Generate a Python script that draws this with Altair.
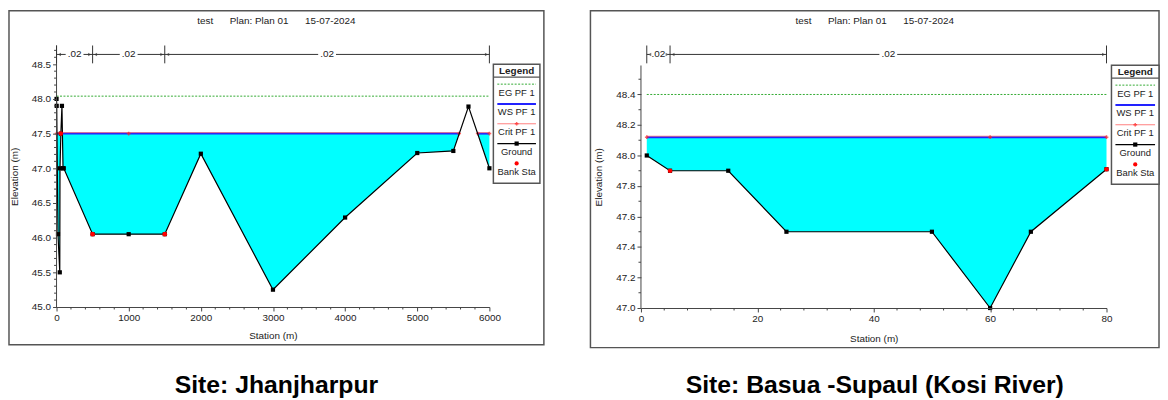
import altair as alt
import pandas as pd

FONT = "'Liberation Sans Narrow', 'Arial Narrow', 'Liberation Sans', Arial, sans-serif"
CAPFONT = "'Liberation Sans', Arial, sans-serif"
TXT = "#222222"
AX = "#444444"
SP = "\u00a0" * 6
TITLE = "test" + SP + "Plan: Plan 01" + SP + "15-07-2024"
LEGEND_LABELS = ["EG PF 1", "WS PF 1", "Crit PF 1", "Ground", "Bank Sta"]

# ---------------- Site: Jhanjharpur ----------------
J_sta = [0, 2, 20, 45, 48, 60, 75, 90, 100, 500, 1000, 1500, 2000, 3000, 4000, 5000, 5500, 5710, 6000]
J_elev = [48.0, 47.9, 46.05, 45.5, 47.0, 47.5, 47.9, 47.0, 47.0, 46.05, 46.05, 46.05, 47.21, 45.25, 46.29, 47.22, 47.25, 47.89, 47.0]
J_bank_sta = [60, 500, 1500]
J_bank_elev = [47.5, 46.05, 46.05]
J_ws = 47.5
J_eg = 48.04
J_eg_ext = [0, 6000]
J_ws_from = [0, 5838]
J_ws_to = [5581, 6000]
J_crit_sta = [0, 1000, 5581, 5838, 6000]
J_wet_sta = [6, 82, 5581, 5838]
J_n_bounds = [0, 500, 1500, 6000]
J_n_vals = [".02", ".02", ".02"]
J_xticks = [0, 1000, 2000, 3000, 4000, 5000, 6000]
J_yticks = [45.0, 45.5, 46.0, 46.5, 47.0, 47.5, 48.0, 48.5]
J_xminor = [v for v in range(200, 6000, 200) if v % 1000]
J_yminor = [round(45.0 + 0.1 * i, 1) for i in range(1, 38) if i % 5]

# ---------------- Site: Basua -Supaul (Kosi River) ----------------
B_sta = [1, 5, 15, 25, 50, 60, 67, 80]
B_elev = [48.0, 47.9, 47.9, 47.5, 47.5, 47.0, 47.5, 47.91]
B_bank_sta = [5, 80]
B_bank_elev = [47.9, 47.91]
B_ws = 48.12
B_eg = 48.4
B_eg_ext = [1, 80]
B_ws_from = [1]
B_ws_to = [80]
B_crit_sta = [1, 60, 80]
B_wet_sta = []
B_n_bounds = [1, 5, 80]
B_n_vals = [".02", ".02"]
B_xticks = [0, 20, 40, 60, 80]
B_yticks = [47.0, 47.2, 47.4, 47.6, 47.8, 48.0, 48.2, 48.4]
B_xminor = [v for v in range(4, 80, 4) if v % 20]
B_yminor = [47.1, 47.3, 47.5, 47.7, 47.9, 48.1, 48.3, 48.5]

SITES = [
    dict(name="Site: Jhanjharpur", sta=J_sta, elev=J_elev, bank_sta=J_bank_sta, bank_elev=J_bank_elev,
         ws=J_ws, eg=J_eg, eg_ext=J_eg_ext, ws_from=J_ws_from, ws_to=J_ws_to, crit=J_crit_sta,
         wet=J_wet_sta, nb=J_n_bounds, nv=J_n_vals, xticks=J_xticks, yticks=J_yticks,
         xminor=J_xminor, yminor=J_yminor, xdom=[0, 6000], ydom=[45.0, 48.77], yaxtop=48.77,
         W=437, H=264, frame=(-48, 492, -35, 302), title=(222, -25), cap=(222, 351),
         leg=(441, 488, 19), ann=(0, 18, 9), ytp=12, xtp=8),
    dict(name="Site: Basua -Supaul (Kosi River)", sta=B_sta, elev=B_elev, bank_sta=B_bank_sta,
         bank_elev=B_bank_elev, ws=B_ws, eg=B_eg, eg_ext=B_eg_ext, ws_from=B_ws_from, ws_to=B_ws_to,
         crit=B_crit_sta, wet=B_wet_sta, nb=B_n_bounds, nv=B_n_vals, xticks=B_xticks, yticks=B_yticks,
         xminor=B_xminor, yminor=B_yminor, xdom=[0, 80], ydom=[47.0, 48.721], yaxtop=48.59,
         W=470, H=265, frame=(-51, 523, -35, 305), title=(236, -25), cap=(236, 351),
         leg=(475, 523, 20), ann=(0, 18, 9), ytp=12, xtp=10),
]

ONE = pd.DataFrame({"k": [0]})


def legend_layers(x0, x1, top):
    cx = (x0 + x1) / 2
    base = alt.Chart(ONE)
    out = [
        base.mark_rect(fill="white", stroke="#555555", strokeWidth=1.5).encode(
            x=alt.value(x0), x2=alt.value(x1), y=alt.value(top), y2=alt.value(top + 120)),
        base.mark_text(text="Legend", font=FONT, fontSize=10, fontWeight="bold", color=TXT,
                       baseline="middle").encode(x=alt.value(cx), y=alt.value(top + 6.5)),
        base.mark_rule(color="#555555", strokeWidth=1.2).encode(
            x=alt.value(x0), x2=alt.value(x1), y=alt.value(top + 13)),
    ]
    sym_y = [20, 40, 60, 80, 100]
    txt_y = [29, 48.5, 68.5, 89, 109]
    lx0, lx1 = x0 + 4, x1 - 4
    out.append(base.mark_rule(color="#33aa33", strokeWidth=1, strokeDash=[2, 1.5]).encode(
        x=alt.value(lx0), x2=alt.value(lx1), y=alt.value(top + sym_y[0])))
    out.append(base.mark_rule(color="#2222ff", strokeWidth=2).encode(
        x=alt.value(lx0), x2=alt.value(lx1), y=alt.value(top + sym_y[1])))
    out.append(base.mark_rule(color="#ff8080", strokeWidth=1).encode(
        x=alt.value(lx0), x2=alt.value(lx1), y=alt.value(top + sym_y[2])))
    out.append(base.mark_point(shape="cross", filled=True, color="#ff2020", size=14).encode(
        x=alt.value(cx), y=alt.value(top + sym_y[2])))
    out.append(base.mark_rule(color="black", strokeWidth=1.2).encode(
        x=alt.value(lx0), x2=alt.value(lx1), y=alt.value(top + sym_y[3])))
    out.append(base.mark_square(color="black", size=18, opacity=1).encode(
        x=alt.value(cx), y=alt.value(top + sym_y[3])))
    out.append(base.mark_circle(color="red", size=18, opacity=1).encode(
        x=alt.value(cx), y=alt.value(top + sym_y[4])))
    for lab, ty in zip(LEGEND_LABELS, txt_y):
        out.append(base.mark_text(text=lab, font=FONT, fontSize=9.5, color=TXT, baseline="middle").encode(
            x=alt.value(cx), y=alt.value(top + ty)))
    return out


def build(s):
    W, H = s["W"], s["H"]
    xs = alt.Scale(domain=s["xdom"], nice=False, zero=False)
    ys = alt.Scale(domain=s["ydom"], nice=False, zero=False)
    common = dict(labelFont=FONT, labelFontSize=10, labelColor=TXT, titleFont=FONT, titleFontSize=10,
                  titleFontWeight="normal", titleColor=TXT, tickSize=4, tickColor=AX, domainColor=AX,
                  labelPadding=2, grid=False, labelOverlap=False, zindex=1)
    xaxis = alt.Axis(values=s["xticks"], title="Station (m)", format="d", titlePadding=s["xtp"],
                     labelFlush=False, **common)
    yaxis = alt.Axis(values=s["yticks"], title="Elevation (m)", format=".1f", titlePadding=s["ytp"],
                     domain=False, **common)

    def X(f):
        return alt.X(f, type="quantitative", scale=xs, axis=xaxis)

    def Y(f):
        return alt.Y(f, type="quantitative", scale=ys, axis=yaxis)

    ground = pd.DataFrame({"sta": s["sta"], "elev": s["elev"]})
    wet = pd.DataFrame({"sta": s["wet"], "elev": [s["ws"]] * len(s["wet"])})
    water = pd.concat([ground, wet]).sort_values("sta").reset_index(drop=True)
    water["lo"] = water["elev"].clip(upper=s["ws"])
    water["ws"] = s["ws"]

    ws_rows = []
    for i, (a, b) in enumerate(zip(s["ws_from"], s["ws_to"])):
        ws_rows += [{"sta": a, "elev": s["ws"], "seg": i}, {"sta": b, "elev": s["ws"], "seg": i}]
    wsdf = pd.DataFrame(ws_rows)
    egdf = pd.DataFrame({"sta": s["eg_ext"], "elev": [s["eg"]] * 2})
    critdf = pd.DataFrame({"sta": s["crit"], "elev": [s["ws"]] * len(s["crit"])})
    bankdf = pd.DataFrame({"sta": s["bank_sta"], "elev": s["bank_elev"]})
    ydom_df = pd.DataFrame({"a": [s["ydom"][0]], "b": [s["yaxtop"]]})

    fx0, fx1, fy0, fy1 = s["frame"]
    one = alt.Chart(ONE)
    layers = [
        one.mark_rect(fill="white", stroke="#555555", strokeWidth=1.5).encode(
            x=alt.value(fx0), x2=alt.value(fx1), y=alt.value(fy0), y2=alt.value(fy1)),
        alt.Chart(water).mark_area(color="#00ffff", opacity=1).encode(
            x=X("sta"), y=Y("lo"), y2=alt.Y2("ws")),
        alt.Chart(egdf).mark_line(color="#33aa33", strokeWidth=1, strokeDash=[2, 1.5]).encode(
            x=X("sta"), y=Y("elev")),
        alt.Chart(wsdf).mark_line(color="#2222ff", strokeWidth=2).encode(
            x=X("sta"), y=Y("elev"), detail="seg:N"),
        alt.Chart(wsdf).mark_line(color="#ff6060", strokeWidth=1, opacity=0.7, yOffset=-1).encode(
            x=X("sta"), y=Y("elev"), detail="seg:N"),
        alt.Chart(critdf).mark_point(shape="cross", filled=True, color="#ff2020", size=14).encode(
            x=X("sta"), y=Y("elev")),
        alt.Chart(ground).mark_line(color="black", strokeWidth=1.2).encode(x=X("sta"), y=Y("elev")),
        alt.Chart(ground).mark_square(color="black", size=18, opacity=1).encode(x=X("sta"), y=Y("elev")),
        alt.Chart(bankdf).mark_circle(color="red", size=22, opacity=1).encode(x=X("sta"), y=Y("elev")),
        alt.Chart(ydom_df).mark_rule(color=AX, strokeWidth=1).encode(
            x=alt.value(0), y=Y("a"), y2=alt.Y2("b")),
        alt.Chart(pd.DataFrame({"v": s["yminor"]})).mark_rule(color=AX, strokeWidth=1).encode(
            y=Y("v"), x=alt.value(0), x2=alt.value(-2.5)),
        alt.Chart(pd.DataFrame({"v": s["xminor"]})).mark_rule(color=AX, strokeWidth=1).encode(
            x=X("v"), y=alt.value(H), y2=alt.value(H + 2.5)),
    ]

    t0, t1, ty = s["ann"]
    nb = s["nb"]
    nbdf = pd.DataFrame({"b": nb})
    segdf = pd.DataFrame({"a": nb[:-1], "e": nb[1:], "lab": s["nv"]})
    segdf["mid"] = (segdf["a"] + segdf["e"]) / 2
    spandf = pd.DataFrame({"a": [nb[0]], "e": [nb[-1]]})
    layers += [
        alt.Chart(nbdf).mark_rule(color="#333333", strokeWidth=1).encode(
            x=X("b"), y=alt.value(t0), y2=alt.value(t1)),
        alt.Chart(spandf).mark_rule(color="#333333", strokeWidth=1).encode(
            x=X("a"), x2=alt.X2("e"), y=alt.value(ty)),
        alt.Chart(segdf).mark_rect(color="white", xOffset=-9, x2Offset=9).encode(
            x=X("mid"), x2=alt.X2("mid"), y=alt.value(ty - 5), y2=alt.value(ty + 5)),
        alt.Chart(segdf).mark_text(font=FONT, fontSize=10, color=TXT, baseline="middle").encode(
            x=X("mid"), y=alt.value(ty), text="lab:N"),
        alt.Chart(segdf).mark_point(shape="triangle-left", filled=True, color="#333333", size=12,
                                    xOffset=3).encode(x=X("a"), y=alt.value(ty)),
        alt.Chart(segdf).mark_point(shape="triangle-right", filled=True, color="#333333", size=12,
                                    xOffset=-3).encode(x=X("e"), y=alt.value(ty)),
    ]

    tx, tyy = s["title"]
    cx, cy = s["cap"]
    layers += [
        one.mark_text(text=TITLE, font=FONT, fontSize=10, color=TXT, baseline="middle").encode(
            x=alt.value(tx), y=alt.value(tyy)),
        one.mark_text(text=s["name"], font=CAPFONT, fontSize=25, fontWeight="bold", color="black",
                      baseline="alphabetic").encode(x=alt.value(cx), y=alt.value(cy)),
    ]
    lx0, lx1, ltop = s["leg"]
    layers += legend_layers(lx0, lx1, ltop)
    return alt.layer(*layers).properties(width=W, height=H)


chart = alt.hconcat(build(SITES[0]), build(SITES[1]), spacing=45).properties(
    padding={"left": 0, "top": 0, "right": 0, "bottom": 0}
).configure_view(stroke=None)

chart.save("out.html", embed_options={"renderer": "svg", "actions": False})
